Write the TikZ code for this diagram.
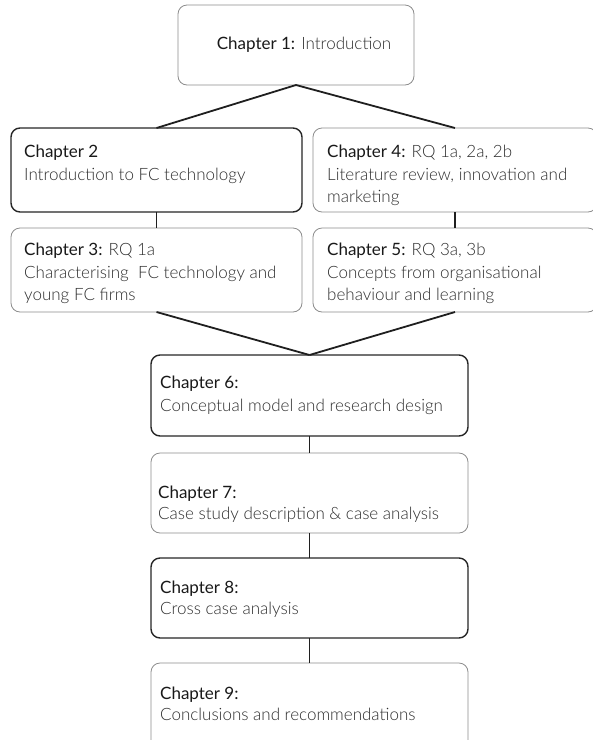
\documentclass[tikz,border=0pt]{standalone}
\usepackage{fontspec}
\setmainfont{Lato}
\newfontfamily\lightfont{Lato Light}
\newcommand\chap[1]{{\normalfont\color{black!90}#1}}
\begin{document}
\begin{tikzpicture}[x=1pt,y=-1pt,
  box/.style={rounded corners=9pt, anchor=north west, inner sep=0pt, outer sep=0pt, fill=white},
  major/.style={box, draw=black!85, line width=1.4pt},
  minor/.style={box, draw=black!45, line width=0.8pt},
  label/.style={anchor=north west, align=left, inner sep=0pt,
    font=\fontsize{17}{22.5}\selectfont\lightfont, text=black!82},
  tight/.style={font=\fontsize{17}{21}\selectfont\lightfont},
  link/.style={draw=black!88, line width=1.8pt}
]
\useasboundingbox (0,0) rectangle (593,740);
\clip (0,0) rectangle (593,740);

% chapter boxes
\node[minor, minimum width=236pt, minimum height=80pt] (c1) at (178,5) {};
\node[major, minimum width=291pt, minimum height=84pt] (c2) at (11,128) {};
\node[minor, minimum width=291pt, minimum height=84pt] (c3) at (11,228) {};
\node[minor, minimum width=284pt, minimum height=84pt] (c4) at (313,128) {};
\node[minor, minimum width=284pt, minimum height=84pt] (c5) at (313,228) {};
\node[major, minimum width=317pt, minimum height=81pt] (c6) at (151,355) {};
\node[minor, minimum width=317pt, minimum height=80pt] (c7) at (151,453) {};
\node[major, minimum width=317pt, minimum height=80pt] (c8) at (151,558) {};
\node[minor, minimum width=317pt, minimum height=100pt] (c9) at (151,663) {};

% chapter texts
\node[label, anchor=center] (t1) at (304,45) {\chap{Chapter 1:} Introduction};
\node[label] (t2) at (24,145) {\chap{Chapter 2}\\Introduction to FC technology};
\node[label] (t3) at (24,243) {\chap{Chapter 3:} RQ 1a\\Characterising\ \ FC technology and\\young FC firms};
\node[label] (t4) at (327,145) {\chap{Chapter 4:} RQ 1a, 2a, 2b\\Literature review, innovation and\\marketing};
\node[label] (t5) at (327,243) {\chap{Chapter 5:} RQ 3a, 3b\\Concepts from organisational\\behaviour and learning};
\node[label] (t6) at (160,376) {\chap{Chapter 6:}\\Conceptual model and research design};
\node[label, tight] (t7) at (158,486) {\chap{Chapter 7:}\\Case study description \& case analysis};
\node[label, tight] (t8) at (160,581) {\chap{Chapter 8:}\\Cross case analysis};
\node[label, tight] (t9) at (160,687) {\chap{Chapter 9:}\\Conclusions and recommendations};

% connectors
\draw[link] (c1.south) -- (c2.north);
\draw[link] (c1.south) -- (c4.north);
\draw[link] (c2.south) -- (c3.north);
\draw[link] (c4.south) -- (c5.north);
\draw[link] (c3.south) -- (c6.north);
\draw[link] (c5.south) -- (c6.north);
\draw[link] (c6.south) -- (c7.north);
\draw[link] (c7.south) -- (c8.north);
\draw[link] (c8.south) -- (c9.north);
\end{tikzpicture}
\end{document}
